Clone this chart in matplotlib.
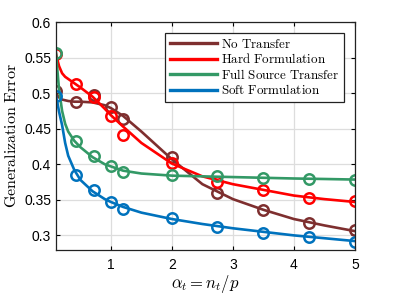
import numpy as np
import matplotlib
matplotlib.use('Agg')
import matplotlib.pyplot as plt

plt.rcParams['mathtext.fontset'] = 'cm'
plt.rcParams['font.family'] = ['Liberation Sans', 'DejaVu Sans']

# simulation points (markers)
alpha_pts = [0.1, 0.42, 0.72, 1.0, 1.2, 2.0, 2.74, 3.5, 4.25, 5.0]
no_transfer_pts = [0.503, 0.488, 0.497, 0.480, 0.464, 0.410, 0.360, 0.336, 0.318, 0.307]
hard_pts = [0.555, 0.513, 0.494, 0.468, 0.441, 0.402, 0.375, 0.364, 0.352, 0.348]
full_src_pts = [0.557, 0.433, 0.412, 0.397, 0.389, 0.3845, 0.383, 0.3813, 0.3795, 0.3785]
soft_pts = [0.496, 0.3855, 0.3645, 0.3476, 0.3374, 0.3238, 0.3122, 0.3038, 0.2972, 0.2911]

# theory curves
alpha_line = [0.1, 0.12, 0.15, 0.2, 0.25, 0.3, 0.4, 0.5, 0.7, 0.9, 1.0, 1.2, 1.5, 2.0, 2.5, 3.0, 3.5, 4.0, 4.5, 5.0]
no_transfer_line = [0.500, 0.497, 0.494, 0.491, 0.490, 0.489, 0.488, 0.488, 0.487, 0.483, 0.479, 0.468, 0.446, 0.407, 0.372, 0.351, 0.336, 0.323, 0.314, 0.306]
hard_line = [0.555, 0.548, 0.538, 0.528, 0.523, 0.520, 0.514, 0.508, 0.495, 0.478, 0.469, 0.453, 0.430, 0.401, 0.383, 0.372, 0.364, 0.356, 0.351, 0.347]
full_src_line = [0.557, 0.535, 0.505, 0.475, 0.457, 0.446, 0.433, 0.424, 0.410, 0.400, 0.397, 0.391, 0.387, 0.384, 0.383, 0.382, 0.381, 0.380, 0.3793, 0.3785]
soft_line = [0.496, 0.488, 0.474, 0.455, 0.430, 0.412, 0.392, 0.378, 0.362, 0.351, 0.347, 0.340, 0.332, 0.323, 0.316, 0.310, 0.305, 0.300, 0.296, 0.292]

labels = ['No Transfer', 'Hard Formulation', 'Full Source Transfer', 'Soft Formulation']
colors = ['#7E2F2F', '#FF0000', '#339966', '#0072BD']

fig = plt.figure(figsize=(3.93, 2.94), dpi=100)
ax = fig.add_axes([0.1425, 0.151, 0.7605, 0.774])

lines_all = [no_transfer_line, hard_line, full_src_line, soft_line]
pts_all = [no_transfer_pts, hard_pts, full_src_pts, soft_pts]
handles = []
for ln, pt, lab, c in zip(lines_all, pts_all, labels, colors):
    h, = ax.plot(alpha_line, ln, '-', color=c, lw=1.9)
    ax.plot(alpha_pts, pt, 'o', mfc='none', mec=c, mew=1.8, ms=7.5)
    handles.append(h)

ax.set_xlim(0.1, 5)
ax.set_ylim(0.28, 0.6)
ax.set_xticks([1, 2, 3, 4, 5])
ax.set_yticks([0.3, 0.35, 0.4, 0.45, 0.5, 0.55, 0.6])
ax.set_yticklabels(['0.3', '0.35', '0.4', '0.45', '0.5', '0.55', '0.6'])
ax.grid(True, color='#DDDDDD', lw=0.9)
ax.set_axisbelow(True)
ax.tick_params(direction='in', top=True, right=True, labelsize=10, length=3, width=0.8)
ax.tick_params(axis='x', pad=6)
for s in ax.spines.values():
    s.set_linewidth(0.9)
    s.set_color('#222222')

ax.set_xlabel(r'$\alpha_t = n_t/p$', fontsize=12, labelpad=1)
ax.set_ylabel(r'$\mathrm{Generalization\ Error}$', fontsize=11.5, labelpad=4)

leg_labels = [r'$\mathrm{No\ Transfer}$', r'$\mathrm{Hard\ Formulation}$',
              r'$\mathrm{Full\ Source\ Transfer}$', r'$\mathrm{Soft\ Formulation}$']
leg = ax.legend(handles, leg_labels, loc='upper right', fontsize=9.4, fancybox=False,
                edgecolor='#222222', framealpha=1, handlelength=3.6, handletextpad=0.32,
                labelspacing=0.12, borderpad=0.35, borderaxespad=0.85)
leg.get_frame().set_linewidth(0.9)
for h in leg.get_lines():
    h.set_linewidth(2.4)

fig.savefig('out.png', dpi=100)
